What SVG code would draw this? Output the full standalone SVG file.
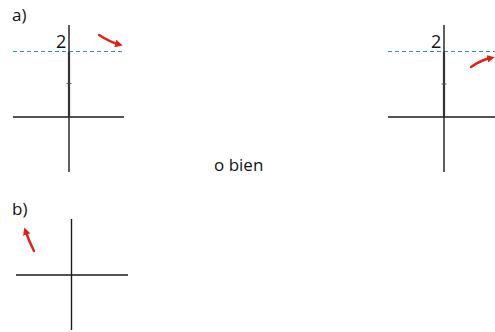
<svg xmlns="http://www.w3.org/2000/svg" width="495" height="332" viewBox="0 0 495 332">
  <defs>
    <style>
      .axis { stroke: #1a1a1a; stroke-width: 1.4; fill: none; }
      .axis-bold { stroke: #333; stroke-width: 2.2; fill: none; }
      .tick { stroke: #555; stroke-width: 1; }
      .dash { stroke: #2a8fd0; stroke-width: 1; stroke-dasharray: 4 3; fill: none; }
      .curve { stroke: #e0201c; stroke-width: 2.4; fill: none; stroke-linecap: round; }
      .label { font-family: "Open Sans", "DejaVu Sans", sans-serif; font-size: 17px; fill: #111; }
      .num { font-size: 18px; }
    </style>
    <marker id="head" viewBox="0 0 10 10" refX="5" refY="5" markerWidth="3.2" markerHeight="3.2" orient="auto" markerUnits="strokeWidth">
      <path d="M0,0 L10,5 L0,10 z" fill="#e0201c"/>
    </marker>
  </defs>

  <!-- case a), left graph -->
  <g id="graph-a-left">
    <text class="label" x="12" y="20.5">a)</text>
    <line class="dash" x1="13" y1="51.5" x2="124" y2="51.5"/>
    <line class="axis" x1="13" y1="117" x2="124" y2="117"/>
    <line class="axis" x1="69" y1="25" x2="69" y2="172"/>
    <line class="axis-bold" x1="69" y1="52" x2="69" y2="117"/>
    <line class="tick" x1="66.5" y1="83.5" x2="71.5" y2="83.5"/>
    <text class="label num" x="56" y="48">2</text>
    <path class="curve" d="M99,35 Q110,42 119,44.5" marker-end="url(#head)"/>
  </g>

  <!-- case a), right graph -->
  <g id="graph-a-right">
    <line class="dash" x1="388" y1="51.5" x2="495" y2="51.5"/>
    <line class="axis" x1="388" y1="117" x2="495" y2="117"/>
    <line class="axis" x1="444" y1="25" x2="444" y2="172"/>
    <line class="axis-bold" x1="444" y1="52" x2="444" y2="117"/>
    <line class="tick" x1="441.5" y1="84" x2="446.5" y2="84"/>
    <text class="label num" x="431" y="48">2</text>
    <path class="curve" d="M471,67 Q481,60 491,58" marker-end="url(#head)"/>
  </g>

  <text class="label" x="214" y="171">o bien</text>

  <!-- case b) -->
  <g id="graph-b">
    <text class="label" x="12" y="215">b)</text>
    <line class="axis" x1="16" y1="275" x2="128" y2="275"/>
    <line class="axis" x1="71.5" y1="219" x2="71.5" y2="330"/>
    <path class="curve" d="M34,251 Q29,241 25.5,231" marker-end="url(#head)"/>
  </g>
</svg>
